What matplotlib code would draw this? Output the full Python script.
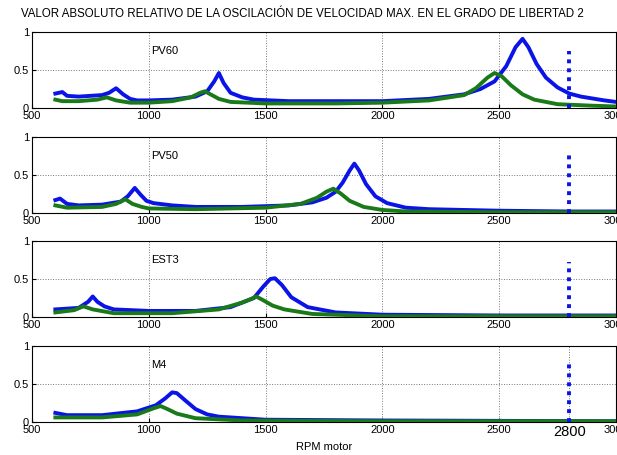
import matplotlib
matplotlib.use("Agg")
import matplotlib.pyplot as plt

plt.rcParams['font.family'] = ['Liberation Sans', 'DejaVu Sans']

labels = ["PV60", "PV50", "EST3", "M4"]

pv60_bx = [600,630,650,700,800,830,860,890,920,950,1000,1100,1200,1250,1280,1300,1320,1350,1400,1450,1600,1800,2000,2200,2350,2420,2480,2530,2570,2600,2625,2660,2700,2750,2800,2850,2950,3000]
pv60_by = [.19,.21,.16,.15,.17,.2,.26,.18,.12,.1,.1,.11,.15,.22,.35,.46,.33,.2,.14,.11,.09,.09,.09,.12,.18,.25,.35,.55,.8,.91,.8,.58,.4,.27,.19,.15,.1,.08]
pv60_gx = [600,630,700,780,820,860,920,1000,1100,1180,1220,1240,1270,1300,1350,1500,1800,2000,2200,2350,2400,2450,2480,2510,2550,2600,2650,2750,2900,3000]
pv60_gy = [.11,.09,.09,.11,.14,.1,.07,.07,.09,.14,.2,.22,.17,.12,.08,.06,.06,.07,.1,.17,.26,.4,.46,.42,.3,.18,.11,.05,.03,.02]

pv50_bx = [600,620,650,700,800,880,910,940,965,990,1020,1100,1200,1400,1600,1700,1760,1800,1830,1860,1880,1900,1930,1970,2020,2100,2200,2500,2800,3000]
pv50_by = [.17,.19,.12,.1,.11,.15,.22,.33,.24,.16,.13,.1,.08,.08,.1,.14,.2,.28,.4,.56,.65,.56,.38,.22,.13,.07,.05,.03,.02,.02]
pv50_gx = [600,650,800,860,900,930,970,1000,1200,1500,1650,1720,1760,1790,1820,1860,1920,2000,2100,2500,3000]
pv50_gy = [.1,.07,.08,.12,.18,.12,.08,.06,.05,.07,.12,.2,.28,.32,.26,.16,.08,.04,.02,.01,.01]

est3_bx = [600,700,740,760,780,810,850,1000,1200,1350,1450,1490,1520,1540,1570,1610,1680,1800,2000,2500,3000]
est3_by = [.1,.12,.2,.27,.2,.14,.1,.08,.08,.13,.25,.4,.5,.51,.42,.26,.13,.06,.03,.02,.02]
est3_gx = [600,680,720,760,850,1100,1300,1400,1440,1460,1490,1530,1580,1700,2000,3000]
est3_gy = [.06,.09,.14,.1,.05,.05,.1,.19,.24,.27,.22,.15,.1,.04,.01,.01]

m4_bx = [600,650,800,950,1030,1070,1100,1120,1150,1200,1250,1300,1500,2000,3000]
m4_by = [.12,.09,.09,.14,.22,.31,.39,.38,.3,.17,.1,.07,.03,.02,.01]
m4_gx = [600,800,950,1020,1050,1080,1120,1200,1400,2000,3000]
m4_gy = [.06,.06,.1,.18,.21,.17,.11,.05,.02,.01,.01]

blue_x = [pv60_bx, pv50_bx, est3_bx, m4_bx]
blue_y = [pv60_by, pv50_by, est3_by, m4_by]
green_x = [pv60_gx, pv50_gx, est3_gx, m4_gx]
green_y = [pv60_gy, pv50_gy, est3_gy, m4_gy]
marker_rpm = 2800
marker_top = [0.75, 0.78, 0.73, 0.78]

W, H = 617, 455
fig = plt.figure(figsize=(W/100, H/100), dpi=100)
tops = [32, 137, 241, 346]
for i in range(4):
    ax = fig.add_axes([32/W, 1 - (tops[i]+76)/H, 584/W, 76/H])
    ax.plot(blue_x[i], blue_y[i], color='#0a14e6', lw=2.8, zorder=3, solid_joinstyle='round')
    ax.plot(green_x[i], green_y[i], color='#1a7a1a', lw=2.8, zorder=4, solid_joinstyle='round')
    ax.plot([marker_rpm, marker_rpm], [0, marker_top[i]], color='#0a14e6', lw=2.8, ls=(0, (1, 1.3)), zorder=5)
    ax.set_xlim(500, 3000)
    ax.set_ylim(0, 1)
    ax.set_yticks([0, 0.5, 1])
    ax.set_yticklabels(['0', '0.5', '1'])
    ax.set_xticks([500, 1000, 1500, 2000, 2500, 3000])
    ax.grid(True, color='#777777', ls=':', lw=0.7)
    ax.tick_params(labelsize=8, length=3, direction='in', pad=2)
    ax.text(1010, 0.75, labels[i], fontsize=8, transform=ax.transData, va='center')
    for s in ax.spines.values():
        s.set_linewidth(0.8)
    if i == 3:
        ax.set_xticks([500, 1000, 1500, 2000, 2500, 2800, 3000])
        ax.set_xticklabels(['500', '1000', '1500', '2000', '2500', '2800', '3000'])
        ax.get_xticklabels()[5].set_fontsize(10.5)
        ax.set_xlabel('RPM motor', fontsize=8, labelpad=2)
fig.text(0.5*(1) - 0.01, 1 - 14/H, 'VALOR ABSOLUTO RELATIVO DE LA OSCILACIÓN DE VELOCIDAD MAX. EN EL GRADO DE LIBERTAD 2',
         ha='center', va='center', fontsize=8.3)
fig.savefig('out.png', dpi=100)
